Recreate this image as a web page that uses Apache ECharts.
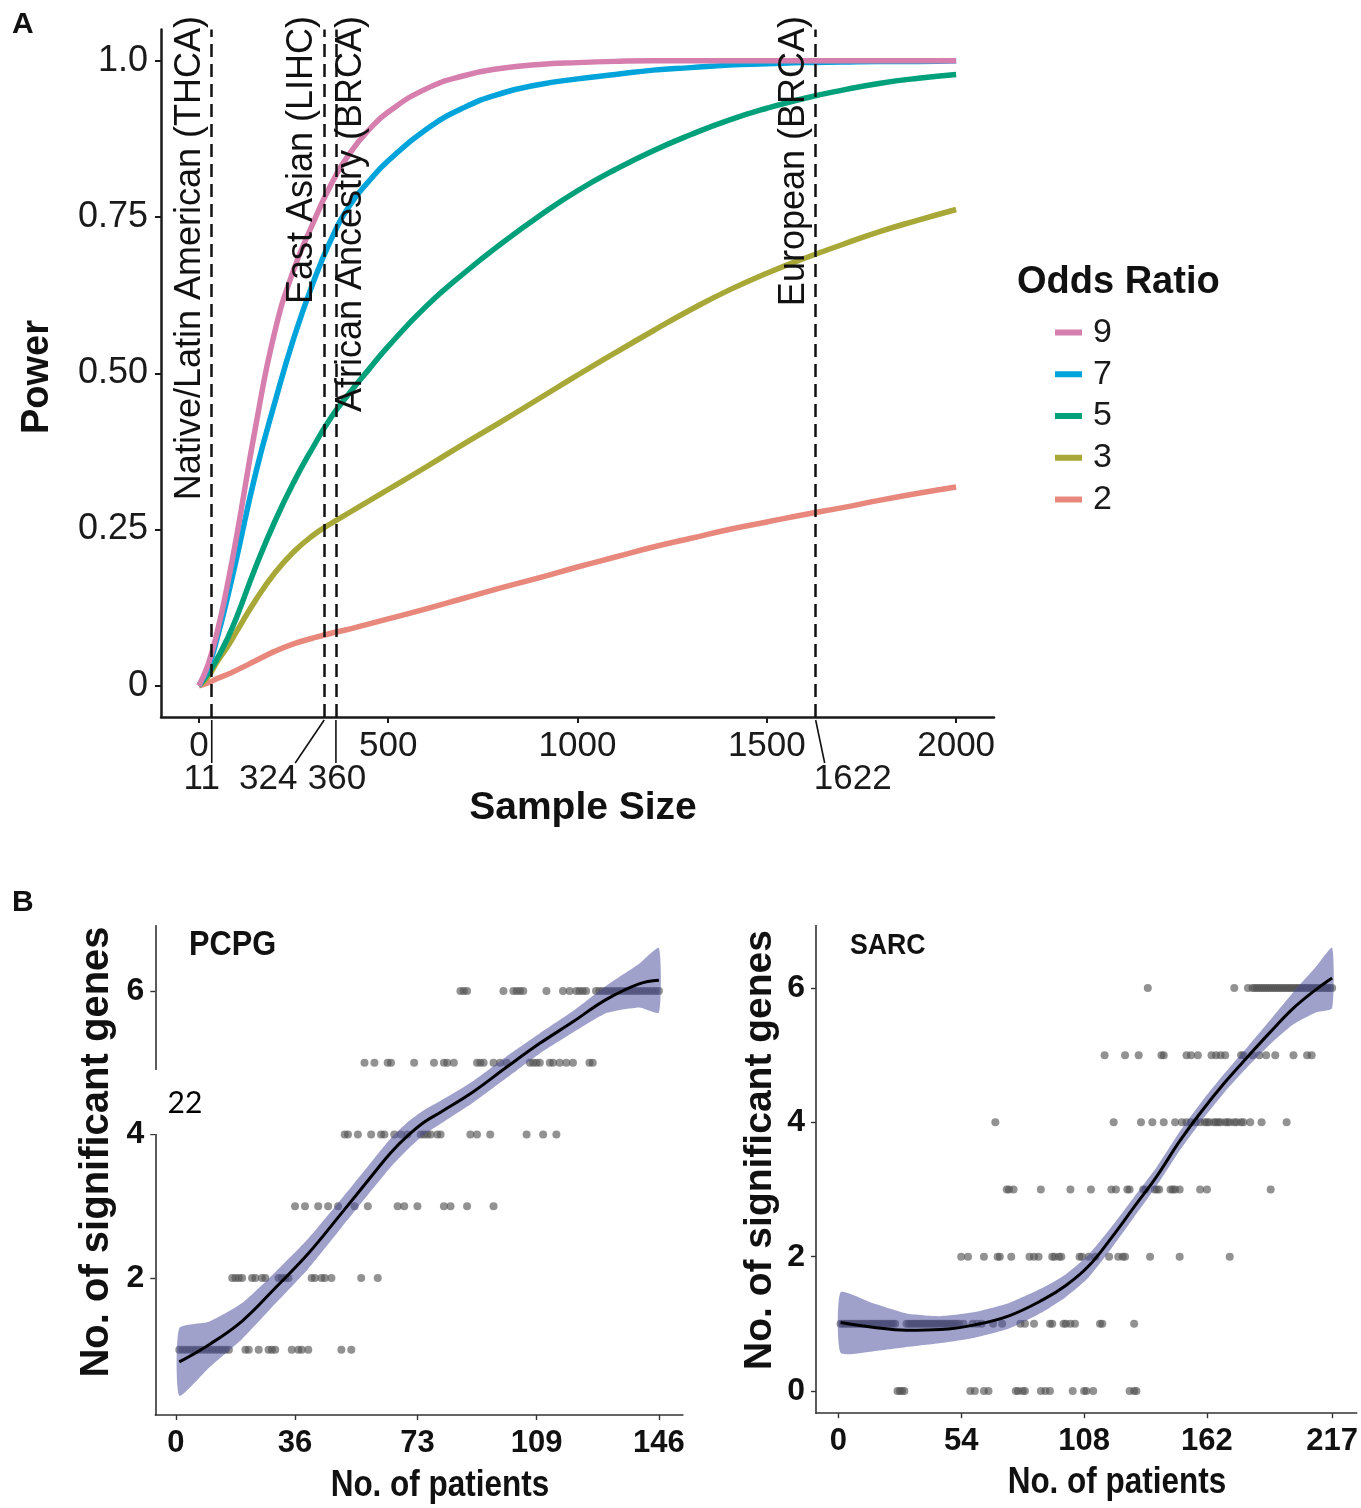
<!DOCTYPE html>
<html><head><meta charset="utf-8">
<script src="https://cdn.jsdelivr.net/npm/echarts@6/dist/echarts.min.js"></script>
<style>html,body{margin:0;padding:0;background:#fff}#c{width:1361px;height:1508px}</style>
</head><body><div id="c"></div>
<script>
// ---------- Panel A: power curves ----------
const sampleSizes = [0,25,50,75,100,150,200,250,300,350,400,450,500,600,700,800,900,1000,1100,1200,1300,1400,1500,1600,1700,1800,1900,2000];
const powerOR9 = [0,.035,.09,.16,.24,.415,.565,.665,.738,.803,.853,.89,.918,.955,.976,.988,.994,.997,.999,1,1,1,1,1,1,1,1,1];
const powerOR7 = [0,.03,.08,.14,.205,.34,.452,.555,.642,.715,.77,.808,.84,.89,.925,.948,.962,.971,.978,.985,.989,.993,.995,.997,.998,.999,.999,1];
const powerOR5 = [0,.02,.045,.075,.11,.19,.262,.325,.38,.43,.47,.507,.543,.607,.66,.708,.752,.792,.826,.856,.882,.905,.924,.94,.953,.964,.972,.978];
const powerOR3 = [0,.015,.04,.062,.087,.137,.18,.214,.24,.26,.278,.296,.314,.35,.387,.423,.46,.497,.533,.568,.602,.633,.66,.684,.706,.727,.745,.762];
const powerOR2 = [0,.005,.012,.018,.025,.04,.055,.067,.076,.084,.091,.099,.107,.123,.14,.157,.173,.19,.206,.222,.236,.25,.262,.274,.285,.297,.308,.318];
const oddsRatios = ['9','7','5','3','2'];
const aXTicks = [0,500,1000,1500,2000];
const aYTicks = [0,0.25,0.5,0.75,1];
const aYTickLabels = ['0','0.25','0.50','0.75','1.0'];
const markerPos = [34,331,362,1629];
const markerLabels = ['11','324','360','1622'];
const markerNames = ['Native/Latin American (THCA)','East Asian (LIHC)','African Ancestry (BRCA)','European (BRCA)'];

// ---------- Panel B left: PCPG ----------
const pcpgXTicks = [0,36,73,109,146];
const pcpgYTicks = [2,4,6];
const pcpgRow1 = [1,2,3,4,5,6,7,8,9,10,11,12,13,14,15,16,21,22,25,28,29,30,35,37,38,40,50,53];
const pcpgRow2 = [17,18,19,20,23,24,26,27,31,32,33,34,41,42,44,45,47,56,61];
const pcpgRow3 = [36,39,43,46,49,54,58,67,69,73,81,83,88,96];
const pcpgRow4 = [51,52,55,59,62,63,66,68,70,74,75,76,77,79,80,89,91,95,106,111,115];
const pcpgRow5 = [57,60,64,65,72,78,81,82,84,91,92,93,96,98,100,107,108,109,110,113,114,116,118,120,125,126];
const pcpgRow6 = [86,87,88,99,102,103,104,105,112,117,119,121,122,123,124,127,128,129,130,131,132,133,134,135,136,137,138,139,140,141,142,143,144,145,146];
const pcpgFitX = [1,10,20,30,40,50,60,65,70,75,80,90,100,110,120,130,140,146];
const pcpgFit  = [0.83,1.07,1.40,1.86,2.34,2.90,3.47,3.75,3.98,4.17,4.31,4.60,4.94,5.27,5.57,5.88,6.10,6.15];
const pcpgLow  = [0.36,0.75,1.15,1.64,2.13,2.70,3.27,3.55,3.79,4.00,4.15,4.45,4.79,5.13,5.42,5.69,5.77,5.70];
const pcpgHigh = [1.30,1.39,1.65,2.08,2.55,3.10,3.67,3.95,4.17,4.34,4.47,4.75,5.09,5.41,5.72,6.07,6.38,6.60];

// ---------- Panel B right: SARC ----------
const sarcXTicks = [0,54,108,162,217];
const sarcYTicks = [0,2,4,6];
const sarcRow0 = [26,27,28,29,58,60,64,66,78,79,81,82,89,91,93,103,108,109,112,128,130,131];
const sarcRow1 = [1,2,3,4,5,6,7,8,9,10,11,12,13,14,15,16,17,18,19,20,21,22,23,24,25,30,31,32,33,34,35,36,37,38,39,40,41,42,43,44,45,46,47,48,49,50,51,52,53,55,59,61,63,68,72,80,82,86,93,94,99,100,102,104,115,116,130];
const sarcRow2 = [54,57,64,70,71,76,84,86,88,94,95,97,98,106,107,110,113,119,123,125,126,137,150,172];
const sarcRow3 = [74,75,77,89,102,111,120,122,127,128,134,135,139,140,141,146,147,148,150,159,162,190];
const sarcRow4 = [69,121,133,138,143,148,151,153,155,157,159,161,162,163,165,166,167,168,170,171,172,174,175,177,178,181,186,197];
const sarcRow5 = [117,126,132,142,143,153,155,158,164,166,168,170,177,178,182,185,188,192,200,206,208];
const sarcRow6 = [136,174,180,182,183,184,185,186,187,188,189,190,191,192,193,194,195,196,197,198,199,200,201,202,203,204,205,206,207,208,209,210,211,212,213,214,215,216,217];
const sarcFitX = [1,15,30,45,60,75,90,100,110,120,130,140,150,160,170,180,190,200,210,217];
const sarcFit  = [1.02,0.95,0.905,0.915,0.985,1.12,1.36,1.57,1.86,2.28,2.74,3.2,3.72,4.18,4.6,4.98,5.35,5.7,5.98,6.15];
const sarcLow  = [0.57,0.59,0.655,0.715,0.795,0.93,1.18,1.40,1.69,2.12,2.59,3.06,3.58,4.04,4.46,4.83,5.17,5.46,5.64,5.70];
const sarcHigh = [1.47,1.31,1.155,1.115,1.175,1.31,1.54,1.74,2.03,2.44,2.89,3.34,3.86,4.32,4.74,5.13,5.53,5.94,6.32,6.60];

// ---------- helpers ----------
const FONT = "'Liberation Sans', Arial, sans-serif";
const pairs = (xs, ys) => xs.map((x, i) => [x, ys[i]]);
const rowsToPoints = (rows, levels) => rows.flatMap((xs, i) => xs.map(x => [x, levels[i]]));

const colors = {'9':'#D67EAE','7':'#00A4DB','5':'#00A07A','3':'#A8A838','2':'#E8887C'};
const powerByOR = {'9':powerOR9,'7':powerOR7,'5':powerOR5,'3':powerOR3,'2':powerOR2};

function axisA(extra){
  return Object.assign({
    type:'value', splitLine:{show:false},
    axisLine:{onZero:false, lineStyle:{color:'#1a1a1a', width:2.5}},
  }, extra);
}
function axisB(extra){
  return Object.assign({
    type:'value', splitLine:{show:false},
    axisLine:{onZero:false, lineStyle:{color:'#333', width:1.6}},
  }, extra);
}

const chart = echarts.init(document.getElementById('c'));

const drawOrder = ['2','3','5','7','9'];
const series = drawOrder.map(k => ({
  name:k, type:'line', xAxisIndex:0, yAxisIndex:0,
  data: pairs(sampleSizes, powerByOR[k]),
  symbol:'none', smooth:0.5, color:colors[k],
  lineStyle:{width:5.5, color:colors[k]}, emphasis:{disabled:true}, z:3
}));
series.push({
  type:'line', xAxisIndex:0, yAxisIndex:0, data:[], z:6, silent:true,
  markLine:{symbol:['none','none'], silent:true, animation:false, label:{show:false},
    lineStyle:{type:[13,7], color:'#111', width:2.5},
    emphasis:{disabled:true},
    data: markerPos.map(v => ({xAxis:v}))}
});

const bandColor = 'rgba(70,75,155,0.52)';
const dotStyle = {color:'rgba(80,80,80,0.78)'};
function bandRenderer(fx, lo, hi){
  return function(params, api){
    if (params.dataIndex !== 0) return null;
    const top = fx.map((x, i) => api.coord([x, hi[i]]));
    const bot = fx.map((x, i) => api.coord([x, lo[i]])).reverse();
    return {type:'polygon', shape:{points:top.concat(bot), smooth:0.18}, style:{fill:bandColor, stroke:null}};
  };
}
function panelB(idx, rows, levels, fx, fit, lo, hi){
  return [
    {type:'scatter', xAxisIndex:idx, yAxisIndex:idx, data:rowsToPoints(rows, levels),
      symbol:'circle', symbolSize:8, itemStyle:dotStyle, emphasis:{disabled:true}, z:2},
    {type:'custom', xAxisIndex:idx, yAxisIndex:idx, data:pairs(fx, fit),
      renderItem:bandRenderer(fx, lo, hi), silent:true, z:3},
    {type:'line', xAxisIndex:idx, yAxisIndex:idx, data:pairs(fx, fit),
      symbol:'none', smooth:0.4, lineStyle:{width:3, color:'#000'}, emphasis:{disabled:true}, z:4}
  ];
}
series.push(...panelB(1, [pcpgRow1,pcpgRow2,pcpgRow3,pcpgRow4,pcpgRow5,pcpgRow6], [1,2,3,4,5,6],
  pcpgFitX, pcpgFit, pcpgLow, pcpgHigh));
series.push(...panelB(2, [sarcRow0,sarcRow1,sarcRow2,sarcRow3,sarcRow4,sarcRow5,sarcRow6], [0,1,2,3,4,5,6],
  sarcFitX, sarcFit, sarcLow, sarcHigh));

const tickA = c => ({customValues:c, length:6, lineStyle:{color:'#1a1a1a', width:2}});
const tickB = c => ({customValues:c, length:5, lineStyle:{color:'#333', width:1.4}});
const option = {
  animation:false,
  backgroundColor:'#fff',
  grid:[
    {left:161, top:29.5, width:833, height:687.5},
    {left:155.3, top:925.7, width:527.6, height:489.3},
    {left:816, top:925.5, width:544, height:487.7}
  ],
  xAxis:[
    axisA({gridIndex:0, min:-100, max:2100, axisTick:tickA(aXTicks),
      axisLabel:{customValues:aXTicks, fontSize:35, color:'#1a1a1a', fontFamily:FONT, margin:12, formatter:v => String(v)}}),
    axisB({gridIndex:1, min:-6.25, max:153.25, axisTick:tickB(pcpgXTicks),
      axisLabel:{customValues:pcpgXTicks, fontSize:31, fontWeight:'bold', color:'#111', fontFamily:FONT, margin:13, formatter:v => String(v)}}),
    axisB({gridIndex:2, min:-9.8, max:227.8, axisTick:tickB(sarcXTicks),
      axisLabel:{customValues:sarcXTicks, fontSize:31, fontWeight:'bold', color:'#111', fontFamily:FONT, margin:13, formatter:v => String(v)}})
  ],
  yAxis:[
    axisA({gridIndex:0, min:-0.05, max:1.05, axisTick:tickA(aYTicks),
      axisLabel:{customValues:aYTicks, fontSize:36, color:'#1a1a1a', fontFamily:FONT, margin:13,
        formatter: v => { const i = aYTicks.findIndex(t => Math.abs(t - v) < 1e-9); return i >= 0 ? aYTickLabels[i] : ''; }}}),
    axisB({gridIndex:1, min:0.09, max:6.91, axisTick:tickB(pcpgYTicks),
      axisLabel:{customValues:pcpgYTicks, fontSize:32, fontWeight:'bold', color:'#111', fontFamily:FONT, margin:11}}),
    axisB({gridIndex:2, min:-0.33, max:6.93, axisTick:tickB(sarcYTicks),
      axisLabel:{customValues:sarcYTicks, fontSize:32, fontWeight:'bold', color:'#111', fontFamily:FONT, margin:11}})
  ],
  legend:{
    data:oddsRatios, orient:'vertical', left:1055, top:315.5, padding:0,
    icon:'rect', itemWidth:27, itemHeight:6, itemGap:7.75, selectedMode:false,
    textStyle:{fontSize:34, lineHeight:33, color:'#1a1a1a', fontFamily:FONT, padding:[0,0,0,6]}
  },
  series
};
chart.setOption(option);

// ---------- annotations (positions derived from the axes) ----------
const gx = v => chart.convertToPixel({xAxisIndex:0}, v);
const axisY = chart.convertToPixel({yAxisIndex:0}, -0.05);
const g = [];
const txt = (text, x, y, o) => Object.assign({type:'text', x, y, z:100,
  style:Object.assign({text, fontFamily:FONT, fill:'#111', align:'center', verticalAlign:'middle'}, o && o.style)}, o && o.el);

const labelSide = ['left','left','right','left'];
markerPos.forEach((v, i) => {
  const p = gx(v);
  const left = labelSide[i] === 'left';
  g.push({type:'text', x: left ? p - 4 : p - 3, y:16, rotation:Math.PI/2, z:100,
    style:{text:markerNames[i], fontSize:36, fontFamily:FONT, fill:'#111',
      align:'right', verticalAlign: left ? 'bottom' : 'top'}});
});
const leadDx = [0,-29,0,9];
const textDx = [-10,-56,1,37];
markerPos.forEach((v, i) => {
  const p = gx(v);
  g.push({type:'line', z:100, shape:{x1:p, y1:axisY + 3, x2:p + leadDx[i], y2:axisY + 46},
    style:{stroke:'#111', lineWidth:1.6}});
  g.push(txt(markerLabels[i], p + textDx[i], axisY + 62, {style:{fontSize:35, fill:'#1a1a1a'}}));
});

g.push(txt('A', 12, 25, {style:{fontSize:30, fontWeight:'bold', align:'left'}}));
g.push(txt('B', 12, 903, {style:{fontSize:30, fontWeight:'bold', align:'left'}}));
g.push(txt('Power', 38, 377, {el:{rotation:Math.PI/2}, style:{fontSize:38, fontWeight:'bold'}}));
g.push(txt('Sample Size', 583, 808, {style:{fontSize:39, fontWeight:'bold'}}));
g.push(txt('Odds Ratio', 1017, 283, {style:{fontSize:38, fontWeight:'bold', align:'left'}}));

g.push(txt('No. of significant genes', 97, 1152, {el:{rotation:Math.PI/2}, style:{fontSize:40, fontWeight:'bold'}}));
g.push(txt('No. of significant genes', 760, 1150, {el:{rotation:Math.PI/2}, style:{fontSize:39, fontWeight:'bold'}}));
g.push(txt('No. of patients', 440, 1486, {el:{scaleX:0.875}, style:{fontSize:36, fontWeight:'bold'}}));
g.push(txt('No. of patients', 1117, 1483, {el:{scaleX:0.875}, style:{fontSize:36, fontWeight:'bold'}}));
g.push(txt('PCPG', 189, 945, {el:{scaleX:0.88}, style:{fontSize:35, fontWeight:'bold', align:'left'}}));
g.push(txt('SARC', 850, 946, {el:{scaleX:0.89}, style:{fontSize:30, fontWeight:'bold', align:'left'}}));

g.push({type:'rect', z:99, shape:{x:150, y:1070, width:62, height:64}, style:{fill:'#fff'}});
g.push(txt('22', 185, 1103, {style:{fontSize:30, fontFamily:"Lato, 'Open Sans', sans-serif", fill:'#000'}}));

chart.setOption({graphic:{elements:g}});
</script>
</body></html>
